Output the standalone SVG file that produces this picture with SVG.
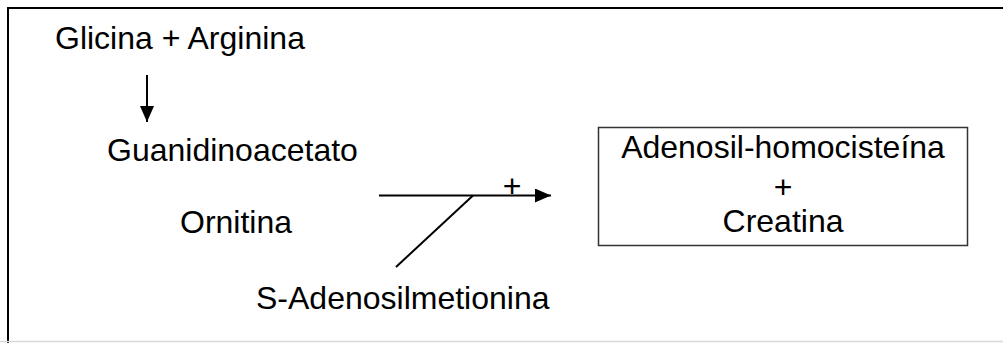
<svg xmlns="http://www.w3.org/2000/svg" width="1003" height="343" viewBox="0 0 1003 343">
  <defs>
    <style>
      .t { font-family: "Liberation Sans", Arial, sans-serif; font-size: 32px; fill: #000; }
      .c { text-anchor: middle; }
      .ln { stroke: #000; stroke-width: 2; fill: none; }
    </style>
    <marker id="ah" markerWidth="16" markerHeight="14" refX="16" refY="7" orient="auto" markerUnits="userSpaceOnUse">
      <path d="M0,0 L16,7 L0,14 Z" fill="#000"/>
    </marker>
  </defs>
  <rect x="0" y="0" width="1003" height="343" fill="#fff"/>
  <g id="frame">
    <path d="M8,343 V8 H1003" fill="none" stroke="#000" stroke-width="2"/>
    <line x1="0" y1="341.5" x2="1003" y2="341.5" stroke="#d8d8d8" stroke-width="1.5"/>
  </g>
  <g id="n-glicina"><text class="t" x="55" y="49">Glicina + Arginina</text></g>
  <g id="n-guanidino"><text class="t" x="107" y="161">Guanidinoacetato</text></g>
  <g id="n-ornitina"><text class="t" x="180" y="233">Ornitina</text></g>
  <g id="n-sam"><text class="t" x="256" y="309">S-Adenosilmetionina</text></g>
  <g id="n-product">
    <rect x="598.5" y="127.5" width="369" height="118" fill="none" stroke="#333" stroke-width="1.5"/>
    <text class="t c" x="783" y="158">Adenosil-homocisteína</text>
    <text class="t c" x="783" y="198">+</text>
    <text class="t c" x="783" y="232">Creatina</text>
  </g>
  <g id="connectors">
    <line class="ln" x1="147" y1="75" x2="147" y2="122" marker-end="url(#ah)"/>
    <line class="ln" x1="379" y1="195.5" x2="551" y2="195.5" marker-end="url(#ah)"/>
    <line class="ln" x1="473" y1="195.5" x2="396" y2="267"/>
    <text class="t c" x="512" y="197">+</text>
  </g>
</svg>
